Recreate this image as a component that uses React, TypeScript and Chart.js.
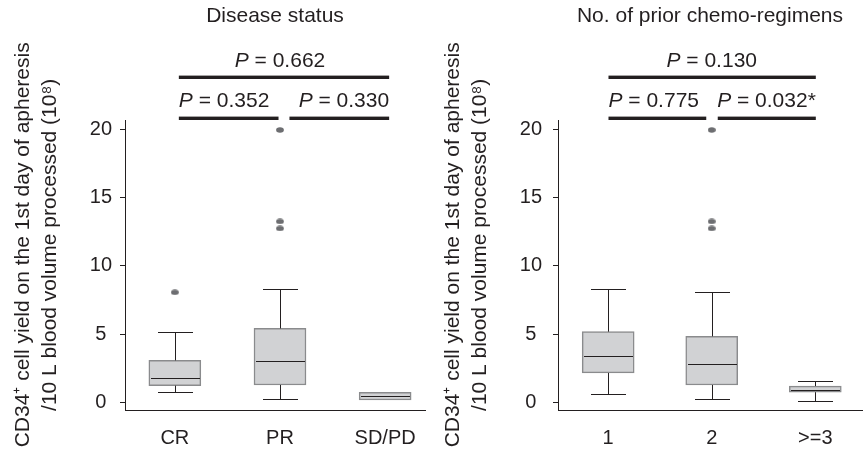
import React, { useEffect, useRef } from 'react';
import { Chart, registerables } from 'chart.js';

Chart.register(...registerables);

const FONT_FAMILY = "'Liberation Sans', Arial, Helvetica, sans-serif";
const INK = '#231f20';
const BOX_FILL = '#d1d2d4';
const BOX_EDGE = '#8a8b8d';
const DOT = '#6d6e71';

// ---- Panel A: disease status ----
const statusTitle = 'Disease status';
const statusCategories = ['CR', 'PR', 'SD/PD'];
const statusMin = [0.73, 0.24, 0.17];
const statusQ1 = [1.22, 1.27, 0.17];
const statusMedian = [1.76, 3.02, 0.46];
const statusQ3 = [3.07, 5.41, 0.73];
const statusMax = [5.16, 8.27, 0.73];
const statusOutliers = [[8.05], [19.94, 13.24, 12.73], []];
const statusPLeft = '0.352';
const statusPRight = '0.330';
const statusPOverall = '0.662';

// ---- Panel B: number of prior chemo-regimens ----
const regimenTitle = 'No. of prior chemo-regimens';
const regimenCategories = ['1', '2', '>=3'];
const regimenMin = [0.58, 0.24, 0.12];
const regimenQ1 = [2.15, 1.27, 0.74];
const regimenMedian = [3.37, 2.78, 0.92];
const regimenQ3 = [5.17, 4.83, 1.19];
const regimenMax = [8.27, 8.05, 1.54];
const regimenOutliers = [[], [19.94, 13.24, 12.73], []];
const regimenPLeft = '0.775';
const regimenPRight = '0.032*';
const regimenPOverall = '0.130';

// ---- shared axis ----
const yTickValues = [0, 5, 10, 15, 20];
const yAxisTitle = [
  '       CD34⁺ cell yield on the 1st day of apheresis',
  '       /10 L blood volume processed (10⁸)',
];

const boxWhiskerPlugin = {
  id: 'boxWhisker',
  afterDatasetsDraw(chart: any, _args: any, opts: any) {
    const { ctx } = chart;
    const xs = chart.scales.x;
    const ys = chart.scales.y;
    const { min, q1, median, q3, max, boxWidth, capWidth } = opts;
    ctx.save();
    ctx.strokeStyle = INK;
    ctx.lineWidth = 1;
    for (let i = 0; i < median.length; i++) {
      const cx = Math.round(xs.getPixelForValue(i + 1)) + 0.5;
      const pMin = ys.getPixelForValue(min[i]);
      const pQ1 = ys.getPixelForValue(q1[i]);
      const pMed = ys.getPixelForValue(median[i]);
      const pQ3 = ys.getPixelForValue(q3[i]);
      const pMax = ys.getPixelForValue(max[i]);
      ctx.beginPath();
      if (max[i] > q3[i]) {
        const yy = Math.round(pMax) + 0.5;
        ctx.moveTo(cx, pQ3);
        ctx.lineTo(cx, yy);
        ctx.moveTo(cx - capWidth / 2, yy);
        ctx.lineTo(cx + capWidth / 2, yy);
      }
      if (min[i] < q1[i]) {
        const yy = Math.round(pMin) + 0.5;
        ctx.moveTo(cx, pQ1);
        ctx.lineTo(cx, yy);
        ctx.moveTo(cx - capWidth / 2, yy);
        ctx.lineTo(cx + capWidth / 2, yy);
      }
      ctx.stroke();
      const my = Math.round(pMed) + 0.5;
      ctx.beginPath();
      ctx.moveTo(cx - boxWidth / 2 + 1.5, my);
      ctx.lineTo(cx + boxWidth / 2 - 1.5, my);
      ctx.stroke();
    }
    ctx.restore();
  },
};

const pAnnotationPlugin = {
  id: 'pAnnot',
  afterDraw(chart: any, _args: any, opts: any) {
    const { ctx, chartArea } = chart;
    const xs = chart.scales.x;
    const italic = `italic 21px ${FONT_FAMILY}`;
    const normal = `21px ${FONT_FAMILY}`;
    ctx.save();
    ctx.fillStyle = INK;
    ctx.textAlign = 'left';
    ctx.textBaseline = 'alphabetic';
    for (const seg of opts.segments) {
      const x0 = xs.getPixelForValue(seg.from);
      const x1 = xs.getPixelForValue(seg.to);
      const yb = chartArea.top + seg.barDy;
      ctx.fillRect(x0, yb - 1.7, x1 - x0, 3.4);
      ctx.font = italic;
      const wP = ctx.measureText('P').width;
      ctx.font = normal;
      const rest = ' = ' + seg.value;
      const wR = ctx.measureText(rest).width;
      const total = wP + wR;
      let tx: number;
      if (seg.align === 'left') tx = x0;
      else if (seg.align === 'right') tx = x1 - total;
      else tx = xs.getPixelForValue(seg.anchor) - total / 2;
      const ty = chartArea.top + seg.textDy;
      ctx.font = italic;
      ctx.fillText('P', tx, ty);
      ctx.font = normal;
      ctx.fillText(rest, tx + wP, ty);
    }
    ctx.restore();
  },
};

type PanelProps = {
  title: string;
  categories: string[];
  min: number[];
  q1: number[];
  median: number[];
  q3: number[];
  max: number[];
  outliers: number[][];
  pLeft: string;
  pRight: string;
  pOverall: string;
  geom: {
    left: number;
    width: number;
    yWidth: number;
    yPad: number;
    xMin: number;
    xMax: number;
    padRight: number;
    lowerLeft: [number, number];
    lowerRight: [number, number];
    top: [number, number];
  };
};

function makeDotImage(): HTMLCanvasElement {
  const c = document.createElement('canvas');
  c.width = 8;
  c.height = 6;
  const g = c.getContext('2d')!;
  g.fillStyle = DOT;
  g.beginPath();
  g.ellipse(4, 3, 3.9, 2.7, 0, 0, Math.PI * 2);
  g.fill();
  return c;
}

function Panel(props: PanelProps) {
  const ref = useRef<HTMLCanvasElement | null>(null);
  useEffect(() => {
    if (!ref.current) return;
    const g = props.geom;
    const font = { family: FONT_FAMILY, size: 20, weight: 'normal' as const };
    const bigFont = { family: FONT_FAMILY, size: 21, weight: 'normal' as const };
    const boxData = props.categories.map((_, i) => ({ x: i + 1, y: [props.q1[i], props.q3[i]] }));
    const outlierData: { x: number; y: number }[] = [];
    props.outliers.forEach((list, i) => list.forEach((v) => outlierData.push({ x: i + 1, y: v })));
    const chart = new Chart(ref.current, {
      type: 'bar',
      data: {
        datasets: [
          {
            type: 'bar',
            data: boxData as any,
            backgroundColor: BOX_FILL,
            borderColor: BOX_EDGE,
            borderWidth: 1.5,
            borderSkipped: false,
            barThickness: 52,
          } as any,
          {
            type: 'scatter',
            data: outlierData,
            pointStyle: makeDotImage(),
            pointRadius: 3,
          } as any,
        ],
      },
      options: {
        responsive: false,
        animation: false,
        events: [],
        layout: { padding: { left: 0, right: g.padRight, top: 0, bottom: 0 } },
        plugins: {
          legend: { display: false },
          tooltip: { enabled: false },
          title: {
            display: true,
            text: props.title,
            fullSize: false,
            color: INK,
            font: { ...bigFont, lineHeight: 1.2 },
            padding: { top: 3.4, bottom: 91.4 },
          },
          boxWhisker: {
            min: props.min,
            q1: props.q1,
            median: props.median,
            q3: props.q3,
            max: props.max,
            boxWidth: 52,
            capWidth: 35,
          },
          pAnnot: {
            segments: [
              { from: g.top[0], to: g.top[1], barDy: -42.7, textDy: -53.3, value: props.pOverall, align: 'center', anchor: 2 },
              { from: g.lowerLeft[0], to: g.lowerLeft[1], barDy: -1.7, textDy: -12.7, value: props.pLeft, align: 'left' },
              { from: g.lowerRight[0], to: g.lowerRight[1], barDy: -1.7, textDy: -12.7, value: props.pRight, align: 'right' },
            ],
          },
        } as any,
        scales: {
          x: {
            type: 'linear',
            min: g.xMin,
            max: g.xMax,
            offset: false,
            afterBuildTicks: (s: any) => {
              s.ticks = props.categories.map((_, i) => ({ value: i + 1 }));
            },
            afterFit: (s: any) => {
              s.height = 43.5;
            },
            ticks: {
              callback: (v: any) => props.categories[Math.round(v) - 1] ?? '',
              font,
              color: INK,
              padding: 8,
              maxRotation: 0,
              autoSkip: false,
            },
            grid: { display: false, offset: false },
            border: { display: true, color: INK, width: 1 },
          },
          y: {
            type: 'linear',
            min: -0.6,
            max: 20.67,
            afterBuildTicks: (s: any) => {
              s.ticks = yTickValues.map((v) => ({ value: v }));
            },
            afterFit: (s: any) => {
              s.width = g.yWidth;
            },
            ticks: {
              font,
              color: INK,
              padding: g.yPad,
              crossAlign: 'center',
            },
            grid: { drawOnChartArea: false, drawTicks: true, tickLength: 5, color: INK, lineWidth: 1 },
            border: { display: true, color: INK, width: 1 },
            title: {
              display: true,
              text: yAxisTitle,
              color: INK,
              font: { ...bigFont, lineHeight: 1.31 },
              padding: { top: 9.3, bottom: 0 },
            },
          },
        } as any,
      },
      plugins: [boxWhiskerPlugin, pAnnotationPlugin],
    });
    return () => chart.destroy();
  }, []);
  return (
    <canvas
      ref={ref}
      width={props.geom.width}
      height={454}
      style={{ position: 'absolute', left: props.geom.left, top: 0, width: props.geom.width, height: 454, display: 'block' }}
    />
  );
}

export default function App() {
  return (
    <div style={{ position: 'absolute', left: 0, top: 0, width: 867, height: 454, background: '#ffffff', overflow: 'hidden' }}>
      <Panel
        title={statusTitle}
        categories={statusCategories}
        min={statusMin}
        q1={statusQ1}
        median={statusMedian}
        q3={statusQ3}
        max={statusMax}
        outliers={statusOutliers}
        pLeft={statusPLeft}
        pRight={statusPRight}
        pOverall={statusPOverall}
        geom={{
          left: 0,
          width: 430,
          yWidth: 125,
          yPad: 8,
          xMin: 0.526,
          xMax: 3.379,
          padRight: 4,
          lowerLeft: [1.038, 1.986],
          lowerRight: [2.09, 3.038],
          top: [1.038, 3.038],
        }}
      />
      <Panel
        title={regimenTitle}
        categories={regimenCategories}
        min={regimenMin}
        q1={regimenQ1}
        median={regimenMedian}
        q3={regimenQ3}
        max={regimenMax}
        outliers={regimenOutliers}
        pLeft={regimenPLeft}
        pRight={regimenPRight}
        pOverall={regimenPOverall}
        geom={{
          left: 430,
          width: 437,
          yWidth: 128,
          yPad: 11,
          xMin: 0.5154,
          xMax: 3.451,
          padRight: 0,
          lowerLeft: [1.003, 1.947],
          lowerRight: [2.058, 3.005],
          top: [1.003, 3.005],
        }}
      />
    </div>
  );
}
